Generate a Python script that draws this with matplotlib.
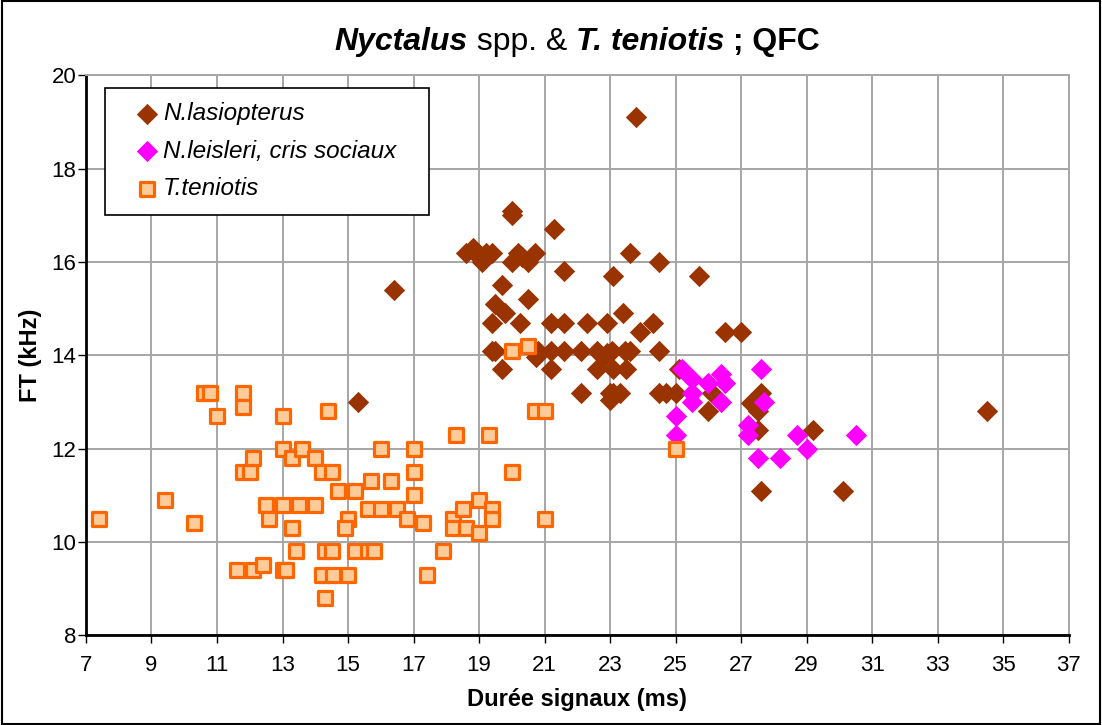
import matplotlib
matplotlib.use("Agg")
import matplotlib.pyplot as plt
from matplotlib.patches import Rectangle

plt.rcParams['font.family'] = ['Liberation Sans', 'DejaVu Sans']

# N.lasiopterus : durée (ms), FT (kHz)
lasio_x = [15.3, 16.4, 18.6, 18.8, 19.0, 19.1, 19.2, 19.4, 20.0, 20.0,
           20.0, 20.2, 20.3, 20.5, 20.7, 21.3, 21.6, 23.1, 19.7, 19.5,
           19.8, 20.5, 19.4, 20.25, 21.2, 21.6, 22.3, 22.9, 23.4, 23.6,
           24.5, 25.7, 23.9, 24.3, 26.5, 27.0,
           19.4, 19.5, 20.8, 21.2, 21.6, 22.1, 22.6, 22.9, 23.05, 23.45,
           23.6, 24.5, 20.75, 22.8,
           19.7, 21.2, 22.6, 23.1, 23.5, 25.1,
           22.1, 23.0, 23.1, 23.3, 24.5, 24.7, 25.0, 23.0, 26.1, 26.0,
           27.6, 27.5, 27.3, 27.5, 27.5, 29.2, 27.6, 30.1, 34.5, 23.8]
lasio_y = [13.0, 15.4, 16.2, 16.3, 16.1, 16.0, 16.2, 16.2, 17.1, 17.0,
           16.0, 16.2, 16.1, 16.0, 16.2, 16.7, 15.8, 15.7, 15.5, 15.1,
           14.9, 15.2, 14.7, 14.7, 14.7, 14.7, 14.7, 14.7, 14.9, 16.2,
           16.0, 15.7, 14.5, 14.7, 14.5, 14.5,
           14.1, 14.1, 14.1, 14.1, 14.1, 14.1, 14.1, 14.05, 14.1, 14.1,
           14.1, 14.1, 13.97, 13.97,
           13.7, 13.7, 13.7, 13.7, 13.7, 13.7,
           13.2, 13.2, 13.2, 13.2, 13.2, 13.2, 13.2, 13.05, 13.2, 12.8,
           13.2, 13.05, 12.97, 12.8, 12.4, 12.4, 11.1, 11.1, 12.8, 19.1]

# N.leisleri, cris sociaux
leis_x = [25.2, 25.5, 26.0, 26.4, 26.5, 25.5, 25.5, 26.4, 25.0, 25.0,
          27.6, 27.7, 27.2, 27.2, 27.5, 28.2, 28.7, 29.0, 30.5]
leis_y = [13.7, 13.5, 13.4, 13.6, 13.4, 13.2, 13.0, 13.0, 12.7, 12.3,
          13.7, 13.0, 12.5, 12.3, 11.8, 11.8, 12.3, 12.0, 12.3]

# T.teniotis
ten_x = [7.4, 9.4, 10.3, 10.6, 10.8, 11.0, 11.8, 11.8, 11.8, 12.0,
         12.1, 13.0, 13.0, 13.3, 13.6, 14.0, 14.2, 14.5, 14.4, 14.7,
         15.2, 15.7, 16.3, 16.0, 17.0, 17.0, 17.0, 12.5, 13.0, 13.5,
         14.0, 12.6, 13.3, 15.0, 14.9, 15.6, 16.0, 16.5, 16.8, 17.3,
         13.4, 14.3, 14.5, 15.2, 15.6, 15.8, 11.6, 12.1, 12.4, 13.0,
         13.1, 14.2, 14.55, 15.0, 14.3, 17.9, 17.4, 18.2, 18.2, 18.6,
         18.5, 19.0, 19.0, 19.4, 19.4, 21.0, 20.0, 18.3, 19.3, 20.7,
         21.0, 20.0, 20.5, 25.0]
ten_y = [10.5, 10.9, 10.4, 13.2, 13.2, 12.7, 13.2, 12.9, 11.5, 11.5,
         11.8, 12.7, 12.0, 11.8, 12.0, 11.8, 11.5, 11.5, 12.8, 11.1,
         11.1, 11.3, 11.3, 12.0, 12.0, 11.5, 11.0, 10.8, 10.8, 10.8,
         10.8, 10.5, 10.3, 10.5, 10.3, 10.7, 10.7, 10.7, 10.5, 10.4,
         9.8, 9.8, 9.8, 9.8, 9.8, 9.8, 9.4, 9.4, 9.5, 9.4,
         9.4, 9.3, 9.3, 9.3, 8.8, 9.8, 9.3, 10.5, 10.3, 10.3,
         10.7, 10.9, 10.2, 10.7, 10.5, 10.5, 11.5, 12.3, 12.3, 12.8,
         12.8, 14.1, 14.2, 12.0]

x_ticks = list(range(7, 38, 2))
y_ticks = list(range(8, 21, 2))

fig = plt.figure(figsize=(11.02, 7.25), dpi=100)
ax = fig.add_axes([0.078, 0.1237, 0.8918, 0.7724])

ax.scatter(lasio_x, lasio_y, marker='D', s=118, color='#993300', linewidths=0,
           label='N.lasiopterus', zorder=3)
ax.scatter(leis_x, leis_y, marker='D', s=118, color='#FF00FF', linewidths=0,
           label='N.leisleri, cris sociaux', zorder=4)
ax.scatter(ten_x, ten_y, marker='s', s=112, facecolor='#FFCC99', edgecolor='#FF6600',
           linewidths=2.3, label='T.teniotis', zorder=5)

ax.set_xlim(7, 37)
ax.set_ylim(8, 20)
ax.set_xticks(x_ticks)
ax.set_yticks(y_ticks)
ax.grid(True, color='#a6a6a6', linewidth=1.4, zorder=0)
ax.set_axisbelow(True)
for side in ('top', 'right'):
    ax.spines[side].set_color('#a6a6a6')
    ax.spines[side].set_linewidth(1.4)
for side in ('left', 'bottom'):
    ax.spines[side].set_color('black')
    ax.spines[side].set_linewidth(2)
ax.tick_params(axis='both', direction='out', length=6, width=1, labelsize=16)
ax.tick_params(axis='y', pad=1)
ax.tick_params(axis='x', pad=8)

ax.set_xlabel('Durée signaux (ms)', fontsize=17, fontweight='bold', labelpad=9)
ax.set_ylabel('FT (kHz)', fontsize=17, fontweight='bold', labelpad=7)

# legend box stretched to the reference width
leg = ax.legend(loc='upper left', bbox_to_anchor=(0.019, 0.5, 0.33, 0.478),
                mode='expand', prop={'style': 'italic', 'size': 17.5},
                frameon=True, fancybox=False, edgecolor='black', framealpha=1,
                borderpad=0.6, labelspacing=0.6, handlelength=2.3,
                handletextpad=-0.5, borderaxespad=0, scatterpoints=1)
leg.get_frame().set_linewidth(1.2)

# title with mixed styles, centered
pieces = [("Nyctalus", 'italic', 'bold'), (" spp. & ", 'normal', 'normal'),
          ("T. teniotis", 'italic', 'bold'), (" ; QFC", 'normal', 'bold')]
texts = [fig.text(0, 0.942, s, style=st, fontweight=w, fontsize=23, va='center')
         for s, st, w in pieces]
fig.canvas.draw()
r = fig.canvas.get_renderer()
widths = [t.get_window_extent(r).width / fig.bbox.width for t in texts]
x = 0.524 - sum(widths) / 2
for t, w in zip(texts, widths):
    t.set_x(x)
    x += w

fig.patches.append(Rectangle((0.002, 0.002), 0.996, 0.996, transform=fig.transFigure,
                             fill=False, edgecolor='black', linewidth=1.5))

fig.savefig('out.png', dpi=100)
